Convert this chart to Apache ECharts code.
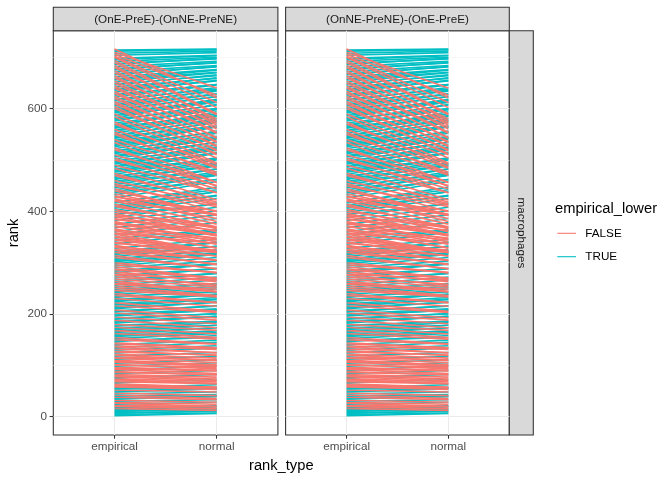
<!DOCTYPE html>
<html><head><meta charset="utf-8">
<script src="https://cdn.jsdelivr.net/npm/echarts@6/dist/echarts.min.js"></script>
<style>html,body{margin:0;padding:0;background:#fff}#c{width:672px;height:480px}</style>
</head><body><div id="c"></div><script>
const panelLabels = ['(OnE-PreE)-(OnNE-PreNE)', '(OnNE-PreNE)-(OnE-PreE)'];
const rowLabel = 'macrophages';
const rankTypes = ['empirical', 'normal'];
const rankTicks = [0, 200, 400, 600];
const minorRankTicks = [100, 300, 500, 700];
const legendTitle = 'empirical_lower';
const legendLabels = ['FALSE', 'TRUE'];
const xTitle = 'rank_type';
const yTitle = 'rank';

const empiricalRank = [
  2,4,6,8,10,12,14,16,18,20,22,24,26,28,30,
  32,34,36,38,40,42,44,46,48,50,52,54,56,58,60,
  62,64,66,68,70,72,74,76,78,80,82,84,86,88,90,92,94,96,98,100,
  102,104,106,108,110,112,114,116,118,120,122,124,126,128,130,132,134,136,138,140,142,144,146,148,150,
  152,154,156,158,160,162,164,166,168,170,172,174,176,178,180,182,184,186,188,190,192,194,196,198,200,
  202,204,206,208,210,212,214,216,218,220,222,224,226,228,230,232,234,236,238,240,242,244,246,248,250,
  252,254,256,258,260,262,264,266,268,270,272,274,276,278,280,282,284,286,288,290,292,294,296,298,300,
  302,304,306,308,310,312,314,316,318,320,322,324,326,328,330,332,334,336,338,340,342,344,346,348,350,
  352,354,356,358,360,362,364,366,368,370,372,374,376,378,380,382,384,386,388,390,392,394,396,398,400,
  402,404,406,408,410,412,414,416,418,420,422,424,426,428,430,432,434,436,438,440,442,444,446,448,450,
  452,454,456,458,460,462,464,466,468,470,472,474,476,478,480,482,484,486,488,490,492,494,496,498,500,
  502,504,506,508,510,512,514,516,518,520,522,524,526,528,530,532,534,536,538,540,542,544,546,548,550,
  552,554,556,558,560,562,564,566,568,570,572,574,576,578,580,582,584,586,588,590,592,594,596,598,600,
  602,604,606,608,610,612,614,616,618,620,622,624,626,628,630,632,634,636,638,640,642,644,646,648,650,
  652,654,656,658,660,662,664,666,668,670,672,674,676,678,680,682,684,686,688,690,692,694,696,698,700,
  702,704,706,708,710,712,714,716
];
const normalRank = [
  6,7,11,10,14,15,19,12,21,15,19,28,20,24,33,
  28,40,39,33,43,35,48,41,54,55,48,57,62,53,56,
  57,57,72,64,65,64,68,82,70,73,77,90,82,81,99,84,89,90,105,96,
  93,110,98,101,100,117,105,110,125,109,114,134,120,119,138,125,145,124,131,149,134,134,158,154,141,
  162,142,164,167,173,151,173,178,154,178,183,161,186,185,168,196,194,195,173,201,200,181,208,207,210,
  188,216,215,192,223,223,229,203,228,232,205,238,238,239,215,248,243,222,251,222,254,259,233,258,234,
  266,236,272,243,248,279,244,279,252,288,258,289,255,266,297,263,298,269,269,303,270,310,281,316,280,
  319,318,325,323,288,332,288,332,339,297,340,296,304,345,305,313,304,359,320,313,362,320,324,364,321,
  320,378,321,337,386,329,344,328,393,348,336,401,346,355,340,408,363,352,416,353,368,414,354,425,369,
  430,360,431,438,370,438,366,447,442,375,393,386,458,401,380,462,392,462,471,394,470,392,477,473,409,
  482,399,483,491,412,491,488,500,494,418,503,414,504,513,502,514,422,515,524,436,522,519,529,525,444,
  534,436,535,543,450,543,540,552,546,456,556,449,556,565,554,565,456,565,576,470,573,566,581,578,476,
  585,472,586,594,484,590,586,600,599,491,598,486,608,607,600,617,494,613,618,504,616,612,624,623,512,
  628,510,629,636,520,634,518,641,638,528,646,526,647,647,536,655,534,654,660,544,659,542,666,664,552,
  670,554,671,675,564,676,560,682,681,572,684,568,690,689,580,692,576,698,697,588,700,590,703,704,602,
  612,709,626,712,640,715,716,621
];

const COL_FALSE = '#F8766D', COL_TRUE = '#00BFC4';
const FONT = '"Liberation Sans", Arial, sans-serif';

// discrete x scale with 0.6 expansion each side: slots of 0.2 from 0.4 to 2.6
const EMP = 3, NOR = 8;
const xSlots = [];
for (let i = 0; i < 12; i++) xSlots.push(i === EMP ? rankTypes[0] : i === NOR ? rankTypes[1] : '\u200b' + i);
const showSlot = (i) => i === EMP || i === NOR;

const yMin = -35.8, yMax = 751.8;
const grids = [
  {left: 53.3, top: 30.7, width: 224.6, height: 404.3},
  {left: 285.6, top: 30.7, width: 223.7, height: 404.3}
];

const option = {
  animation: false,
  backgroundColor: '#ffffff',
  grid: grids.map(g => Object.assign({show: true, borderColor: '#333333', borderWidth: 1.07, backgroundColor: '#ffffff', containLabel: false}, g)),
  xAxis: grids.map((g, k) => ({
    type: 'category', gridIndex: k, data: xSlots, boundaryGap: false, position: 'bottom',
    axisLine: {show: false, onZero: false},
    axisTick: {show: true, interval: showSlot, length: 3.67, lineStyle: {color: '#333333', width: 1.07}},
    axisLabel: {show: true, interval: showSlot, margin: 6.2, color: '#4D4D4D', fontSize: 11.7, fontFamily: FONT},
    splitLine: {show: true, interval: showSlot, lineStyle: {color: '#EBEBEB', width: 1.07}}
  })),
  yAxis: [].concat(...grids.map((g, k) => ([
    {
      type: 'value', gridIndex: k, min: yMin, max: yMax, position: 'left',
      axisLine: {show: false, onZero: false},
      axisTick: {show: k === 0, customValues: rankTicks, length: 3.67, lineStyle: {color: '#333333', width: 1.07}},
      axisLabel: {show: k === 0, customValues: rankTicks, margin: 6.2, color: '#4D4D4D', fontSize: 11.7, fontFamily: FONT},
      splitLine: {show: true, lineStyle: {color: '#EBEBEB', width: 1.07}}
    },
    {
      type: 'value', gridIndex: k, min: yMin, max: yMax, position: 'left',
      axisLine: {show: false, onZero: false},
      axisTick: {show: false, customValues: minorRankTicks},
      axisLabel: {show: false, customValues: minorRankTicks},
      splitLine: {show: true, lineStyle: {color: '#F2F2F2', width: 0.6}}
    }
  ]))),
  series: grids.map((g, k) => ({
    type: 'lines', coordinateSystem: 'cartesian2d', xAxisIndex: k, yAxisIndex: 2 * k,
    silent: true, polyline: false, z: 5,
    lineStyle: {width: 1.6, opacity: 1, curveness: 0},
    data: empiricalRank.map((e, i) => ({
      coords: [[EMP, e], [NOR, normalRank[i]]],
      lineStyle: {color: e < normalRank[i] ? COL_TRUE : COL_FALSE}
    }))
  })),
  graphic: [
    {type: 'rect', shape: {x: 53.3, y: 7.3, width: 224.6, height: 23.4}, style: {fill: '#D9D9D9', stroke: '#333333', lineWidth: 1.07}},
    {type: 'rect', shape: {x: 285.6, y: 7.3, width: 223.7, height: 23.4}, style: {fill: '#D9D9D9', stroke: '#333333', lineWidth: 1.07}},
    {type: 'rect', shape: {x: 509.3, y: 30.7, width: 24, height: 404.3}, style: {fill: '#D9D9D9', stroke: '#333333', lineWidth: 1.07}},
    {type: 'text', x: 165.6, y: 19.5, style: {text: panelLabels[0], fill: '#1A1A1A', fontSize: 11.7, fontFamily: FONT, align: 'center', verticalAlign: 'middle'}},
    {type: 'text', x: 397.5, y: 19.5, style: {text: panelLabels[1], fill: '#1A1A1A', fontSize: 11.7, fontFamily: FONT, align: 'center', verticalAlign: 'middle'}},
    {type: 'text', x: 521.3, y: 232.9, rotation: -Math.PI / 2, style: {text: rowLabel, fill: '#1A1A1A', fontSize: 11.7, fontFamily: FONT, align: 'center', verticalAlign: 'middle'}},
    {type: 'text', x: 281.3, y: 465.5, style: {text: xTitle, fill: '#000000', fontSize: 14.7, fontFamily: FONT, align: 'center', verticalAlign: 'middle'}},
    {type: 'text', x: 13.5, y: 232.9, rotation: Math.PI / 2, style: {text: yTitle, fill: '#000000', fontSize: 14.7, fontFamily: FONT, align: 'center', verticalAlign: 'middle'}},
    {type: 'text', x: 555, y: 208.5, style: {text: legendTitle, fill: '#000000', fontSize: 14.7, fontFamily: FONT, align: 'left', verticalAlign: 'middle'}},
    {type: 'line', shape: {x1: 557.3, y1: 233.3, x2: 576, y2: 233.3}, style: {stroke: COL_FALSE, lineWidth: 1.07}},
    {type: 'line', shape: {x1: 557.3, y1: 256.7, x2: 576, y2: 256.7}, style: {stroke: COL_TRUE, lineWidth: 1.07}},
    {type: 'text', x: 585.3, y: 233.3, style: {text: legendLabels[0], fill: '#000000', fontSize: 11.7, fontFamily: FONT, align: 'left', verticalAlign: 'middle'}},
    {type: 'text', x: 585.3, y: 256.7, style: {text: legendLabels[1], fill: '#000000', fontSize: 11.7, fontFamily: FONT, align: 'left', verticalAlign: 'middle'}}
  ]
};
const chart = echarts.init(document.getElementById('c'), null, {renderer: 'canvas'});
chart.setOption(option);
</script></body></html>
